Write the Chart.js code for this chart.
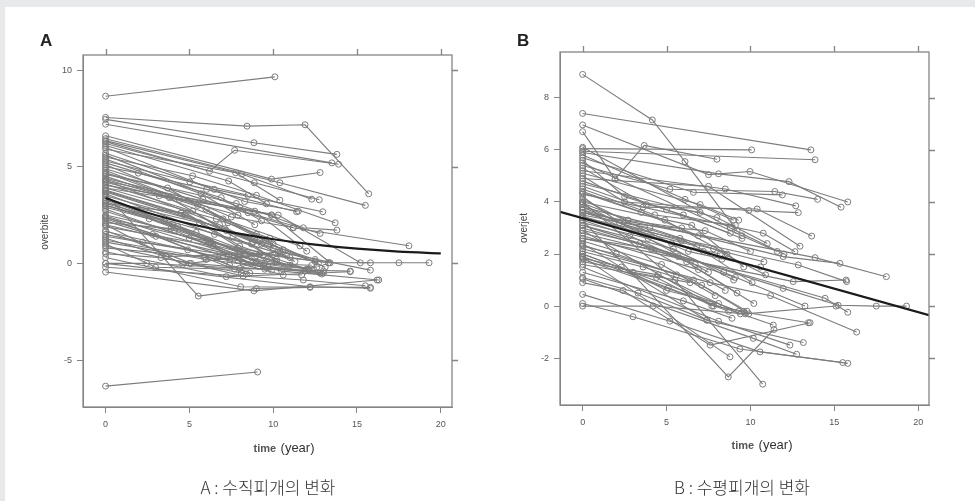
<!DOCTYPE html>
<html>
<head>
<meta charset="utf-8">
<script src="https://cdn.jsdelivr.net/npm/chart.js@4.4.1/dist/chart.umd.min.js"></script>
<style>
  body { margin: 0; background: #e8e9eb; }
  #page { position: relative; width: 975px; height: 501px; overflow: hidden; }
  #sheet { position: absolute; left: 5px; top: 7px; right: 0; bottom: 0; background: #fff; }
  canvas { position: absolute; left: 0; top: 0; }
  .txt { position: absolute; white-space: nowrap; color: #444; font-family: 'Liberation Sans', Arial, sans-serif; }
  .panel { font-size: 17px; font-weight: bold; color: #222; }
  .ytitle { font-size: 10px; transform: translate(-50%, -50%) rotate(-90deg); }
  .xtitle { transform: translate(-50%, -50%); }
  .xtitle b { font-size: 11px; color: #555; }
  .xtitle span { font-size: 13px; font-family: 'Liberation Sans Narrow', 'Liberation Sans', sans-serif; color: #333; }
  .caption { font-family: 'Noto Sans CJK KR', sans-serif; font-weight: 300; font-size: 17px; color: #333; transform: translate(-50%, -50%); }
</style>
</head>
<body>
<div id="page">
  <div id="sheet"></div>
  <canvas id="overbiteChart" width="975" height="501"></canvas>
  <canvas id="overjetChart" width="975" height="501"></canvas>

  <div class="txt panel" style="left:40px; top:31px;">A</div>
  <div class="txt ytitle" style="left:44px; top:232px;">overbite</div>
  <div class="txt xtitle" style="left:284px; top:447px;"><b>time</b> <span>(year)</span></div>
  <div class="txt caption" style="left:268px; top:486px;">A : 수직피개의 변화</div>

  <div class="txt panel" style="left:517px; top:31px;">B</div>
  <div class="txt ytitle" style="left:523px; top:228px;">overjet</div>
  <div class="txt xtitle" style="left:762px; top:444px;"><b>time</b> <span>(year)</span></div>
  <div class="txt caption" style="left:742px; top:486px;">B : 수평피개의 변화</div>
</div>

<script>
// tick labels
const timeTicks = [0, 5, 10, 15, 20];
const overbiteTicks = [-5, 0, 5, 10];
const overjetTicks = [-2, 0, 2, 4, 6, 8];

// A: overbite, one row per patient (time in years / value in mm)
const overbiteTimes = [
  [0, 10.1], [0, 8.44, 11.9, 15.7], [0, 8.85, 13.8], [0, 13.5], [0, 6.2, 7.7, 13.9],
  [0, 9.9, 12.8], [0, 10.4, 15.5], [0, 8.87, 12.75], [0, 8.12, 12.3], [0, 7.76, 10.4],
  [0, 7.34, 9.6], [0, 5.19, 9.0, 13.7], [0, 5.03, 8.5], [0, 1.95, 6.03, 11.4], [0, 6.48, 12.96],
  [0, 5.8, 11.2, 18.1], [0, 7.8, 11.8, 13.8], [0, 8.5, 12.8], [0, 8.9, 12.0], [0, 9.9, 13.4],
  [0, 10.3, 15.2, 15.8], [0, 8.0, 13.3, 17.5, 19.3], [0, 5.53, 9.0, 12.2], [0, 7.2, 14.6], [0, 8.06, 15.8],
  [0, 8.85, 16.2], [0, 11.8, 15.5], [0, 12.2, 15.8], [0, 9.07], [0, 2.45, 8.0, 13.0],
  [0, 2.98, 7.7, 12.6], [0, 3.6, 9.2, 13.3], [0, 5.1, 9.5, 14.6], [0, 4.6, 10.3, 15.8], [0, 7.0, 10.5, 16.3],
  [0, 4.0, 8.3], [0, 3.5, 7.9, 11.0], [0, 5.0, 9.5], [0, 6.5, 10.8], [0, 4.5, 8.8, 12.5],
  [0, 2.8, 7.4], [0, 6.0, 9.0, 13.1], [0, 3.2, 7.0, 11.6], [0, 5.5, 10.0], [0, 7.5, 11.2],
  [0, 6.9, 9.3], [0, 4.8, 8.0, 12.0], [0, 3.9, 9.6], [0, 6.2, 10.1, 12.8], [0, 2.2, 6.8, 9.9],
  [0, 5.9, 8.4], [0, 7.9, 10.9], [0, 4.3, 8.7, 12.3], [0, 6.6, 9.8], [0, 3.7, 7.3, 10.6],
  [0, 5.7, 8.9], [0, 8.3, 11.5], [0, 4.1, 9.1], [0, 6.4, 8.2, 11.9], [0, 7.1, 10.0],
  [0, 3.0, 8.6], [0, 5.2, 7.6, 10.2], [0, 9.2, 12.7], [0, 4.9, 10.6], [0, 6.8, 11.3],
  [0, 2.6, 6.1, 9.4], [0, 8.0, 9.9], [0, 5.4, 9.7, 13.0], [0, 7.7, 12.4], [0, 4.4, 7.9],
  [0, 3.3, 8.1, 11.7], [0, 6.0, 12.9], [0, 9.0, 12.1], [0, 5.6, 8.9], [0, 7.4, 10.4],
  [0, 4.7, 9.3], [0, 6.3, 11.0], [0, 3.8, 7.2, 12.5], [0, 8.7, 10.2], [0, 5.0, 8.2]
];
const overbiteValues = [
  [8.65, 9.65], [7.55, 7.1, 7.17, 3.6], [7.45, 6.24, 5.64], [7.2, 5.2], [6.3, 4.77, 5.85, 5.13],
  [6.6, 4.36, 4.7], [6.45, 4.17, 3.0], [6.2, 4.17, 3.29], [6.35, 4.62, 3.32], [5.9, 4.69, 3.27],
  [6.1, 4.26, 3.08], [5.5, 4.53, 3.52, 2.1], [5.3, 4.22, 3.52], [5.0, 4.67, 3.83, 2.67], [5.7, 3.83, 2.67],
  [4.9, 3.31, 1.84, 0.91], [4.65, 3.1, 1.84, 1.72], [4.4, 2.62, 1.55], [4.25, 2.7, 0.63], [4.05, 2.5, 0.03],
  [3.9, 2.5, 0.03, 0.03], [3.2, 0.6, 0.03, 0.03, 0.03], [3.6, -1.69, -1.3, -1.24], [0.6, -0.69, -0.43], [0.3, -1.21, -1.24],
  [-0.45, -1.42, -0.86], [-0.2, -0.86, -1.16], [0.0, -1.21, -1.29], [-6.35, -5.62], [0.0, 0.0, -0.25, -0.4],
  [1.0, -0.2, -0.3, -0.2], [1.3, 0.35, 0.52, 0.03], [1.7, 0.0, -0.3, -0.4], [2.0, -0.05, 0.6, -0.35], [2.3, 0.4, -0.4, -0.86],
  [3.4, 2.0, 0.5], [3.0, 2.2, 0.8, 0.3], [2.8, 1.3, 0.0], [3.6, 1.5, 0.4], [3.8, 2.6, 1.1, 0.1],
  [2.4, 1.5, -0.1], [4.5, 2.8, 1.5, -0.2], [4.2, 3.5, 2.3, 0.9], [4.8, 3.0, 1.0], [5.1, 2.4, 1.86],
  [5.2, 3.4, 2.2], [3.1, 2.6, 0.9, -0.3], [2.1, 1.8, 0.2], [2.7, 1.0, 0.1, -0.5], [1.5, 1.1, 0.5, -0.35],
  [1.2, 0.3, -0.55], [0.8, 0.15, -0.2], [3.3, 1.9, 0.0, -0.1], [3.9, 2.3, 1.3], [4.6, 3.9, 2.1, 0.7],
  [5.4, 3.6, 2.0], [6.0, 3.2, 2.7], [2.5, 1.7, -0.15], [1.9, 0.9, 0.0, -0.4], [3.5, 1.8, 0.8],
  [2.2, 1.4, -0.5], [4.1, 2.7, 1.4, 0.2], [3.7, 1.2, 0.0], [1.4, 0.7, -0.6], [4.3, 2.0, 0.1],
  [2.9, 2.3, 1.2, 0.4], [5.6, 2.9, 2.5], [3.0, 1.6, -0.2, -0.5], [2.0, 0.4, -0.3], [4.7, 3.3, 2.5],
  [0.5, 0.3, -0.5, -0.6], [1.1, 0.2, -0.55], [2.45, 0.1, -0.3], [3.25, 2.1, 0.3], [1.65, 0.2, 0.6],
  [3.75, 2.5, 1.0], [2.35, 1.1, -0.1], [4.35, 3.4, 1.7, 0.2], [3.1, 1.0, 0.1], [0.9, 0.0, -0.65]
];
// fitted mean curve
const overbiteMeanTimes = [0, 2.5, 5, 7.5, 10, 12.5, 15, 17.5, 20];
const overbiteMeanValues = [3.38, 2.62, 2.05, 1.6, 1.25, 0.97, 0.76, 0.61, 0.52];

// B: overjet
const overjetTimes = [
  [0, 4.15, 6.1, 9.2], [0, 13.6], [0, 1.93, 3.67, 8.0], [0, 10.07], [0, 13.85],
  [0, 7.5, 9.97, 15.8], [0, 8.1, 12.3, 15.4], [0, 5.2, 11.45, 14.0], [0, 6.6, 11.9], [0, 8.5, 12.7],
  [0, 2.5, 9.9, 12.85], [0, 3.6, 10.4, 13.65], [0, 7.5, 12.95], [0, 10.76, 12.65], [0, 11.95, 15.33],
  [0, 13.85, 18.1], [0, 12.85, 15.73], [0, 11.95, 15.23, 17.5, 19.3], [0, 12.55, 15.7], [0, 14.45, 15.8],
  [0, 8.4, 13.25], [0, 7.6, 11.2, 16.33], [0, 9.3, 13.45], [0, 11.36], [0, 7.4, 13.15],
  [0, 8.1, 12.35], [0, 10.17, 12.75], [0, 5.2, 10.57, 15.5], [0, 3.0, 9.37, 15.8], [0, 8.78],
  [0, 8.68, 11.4], [0, 5.5, 10.73], [0, 4.2, 9.7, 15.1], [0, 2.4, 7.6, 13.55], [0, 2.5, 6.0, 9.5],
  [0, 3.8, 7.0], [0, 5.0, 8.8], [0, 4.3, 9.1], [0, 2.2, 7.3, 10.0], [0, 6.5, 9.6],
  [0, 3.1, 6.8], [0, 5.8, 8.3], [0, 4.0, 7.8, 10.9], [0, 2.8, 6.2], [0, 5.4, 9.0],
  [0, 3.4, 8.5], [0, 6.9, 10.2], [0, 4.7, 7.9], [0, 2.0, 5.6], [0, 3.6, 7.1, 9.8],
  [0, 5.1, 8.7], [0, 4.5, 9.4], [0, 6.0, 8.9], [0, 3.3, 7.4], [0, 2.7, 5.9],
  [0, 7.0, 9.3], [0, 4.9, 8.6], [0, 6.3, 10.6], [0, 3.9, 7.5], [0, 5.7, 9.2],
  [0, 8.0, 11.0], [0, 4.1, 6.7, 9.1], [0, 3.0, 6.4], [0, 7.2, 10.1], [0, 5.3, 8.2],
  [0, 9.5, 11.6], [0, 6.6, 9.9], [0, 4.4, 7.7], [0, 8.8, 12.0], [0, 5.9, 10.8],
  [0, 3.5, 6.9], [0, 7.8, 9.6], [0, 2.3, 5.0, 8.1], [0, 6.1, 9.0]
];
const overjetValues = [
  [8.9, 7.15, 5.55, 2.9], [7.4, 6.0], [6.7, 4.88, 6.17, 5.64], [6.05, 6.0], [5.95, 5.62],
  [6.96, 5.05, 5.17, 4.0], [5.9, 5.08, 4.78, 3.8], [5.4, 4.49, 4.4, 4.1], [5.7, 4.37, 4.27], [5.2, 4.5, 3.85],
  [5.0, 4.0, 3.67, 3.59], [4.6, 3.8, 3.73, 2.69], [4.9, 4.6, 2.3], [4.3, 2.8, 2.09], [3.8, 1.9, 1.64],
  [3.6, 1.86, 1.13], [3.4, 1.58, 0.94], [3.1, 0.68, 0.03, 0.0, 0.0], [2.6, 0.94, 1.0], [3.0, 0.3, -0.24],
  [3.7, 1.3, 0.0], [2.2, 0.9, 0.4, -1.0], [2.0, -0.2, -0.64], [1.8, -0.73], [2.4, -0.54, -1.4],
  [1.5, -0.58, -1.5], [1.05, -1.24, -1.85], [0.45, -0.58, -1.76, -2.17], [0.1, -0.41, -1.65, -2.2], [1.9, -1.95],
  [3.3, -2.72, -0.9], [4.0, 1.0, -3.0], [0.0, 0.0, -0.3, 0.0], [0.9, 0.6, -1.5, -0.64], [5.6, 4.2, 3.5, 2.6],
  [5.3, 3.9, 3.6], [4.8, 3.7, 2.8], [4.5, 3.5, 3.1], [4.2, 3.2, 2.9, 2.1], [4.0, 3.1, 1.5],
  [3.9, 2.9, 2.3], [3.7, 2.6, 1.8], [3.5, 3.0, 2.2, 1.2], [3.3, 2.7, 1.7], [3.1, 2.2, 1.0],
  [2.9, 2.4, 0.6], [2.7, 1.4, 0.1], [2.5, 1.6, 0.4], [2.3, 2.0, 1.2], [2.1, 1.5, 0.8, -0.2],
  [1.9, 0.7, -0.2], [1.7, 1.2, -0.3], [1.3, 0.2, -0.47], [1.1, 0.5, -0.54], [3.95, 3.3, 3.0],
  [5.1, 3.9, 3.3], [4.4, 3.3, 2.0], [3.8, 2.1, 1.5], [3.2, 2.6, 1.3], [2.8, 1.9, 0.5],
  [4.7, 3.4, 2.4], [2.6, 2.2, 1.6, 1.1], [2.0, 1.3, 0.9], [3.45, 2.1, 0.9], [4.1, 2.4, 2.0],
  [5.5, 2.7, 2.1], [2.35, 1.0, -0.3], [1.6, 1.1, 0.0], [6.1, 3.0, 2.0], [3.6, 2.5, 1.7],
  [4.35, 3.6, 2.7], [2.9, 0.0, -0.2], [1.85, 1.5, 0.6, 0.1], [5.8, 4.1, 3.3]
];
// fitted straight line, read where it meets the frame
const overjetMeanTimes = [-1.35, 20.64];
const overjetMeanValues = [3.62, -0.35];

document.addEventListener('DOMContentLoaded', () => {
  const lineGrey = '#7c7c7c';
  const frameGrey = '#858585';
  const tickFont = { family: "'Liberation Sans', Arial, sans-serif", size: 9 };

  // frame round the plot plus the unlabelled ticks on top and right
  const frameBox = {
    id: 'frameBox',
    afterDraw(chart) {
      const { ctx, chartArea: a, scales } = chart;
      ctx.save();
      ctx.strokeStyle = frameGrey;
      ctx.lineWidth = 1.3;
      ctx.strokeRect(a.left, a.top, a.right - a.left, a.bottom - a.top);
      ctx.beginPath();
      scales.x.ticks.forEach(t => {
        const px = Math.round(scales.x.getPixelForValue(t.value)) + 0.5;
        ctx.moveTo(px, a.top - 6);
        ctx.lineTo(px, a.top);
      });
      scales.y.ticks.forEach(t => {
        const py = Math.round(scales.y.getPixelForValue(t.value)) + 0.5;
        ctx.moveTo(a.right, py);
        ctx.lineTo(a.right + 6, py);
      });
      ctx.stroke();
      ctx.restore();
    }
  };

  function buildDatasets(times, values, meanTimes, meanValues, curved) {
    const sets = [{
      data: meanTimes.map((t, i) => ({ x: t, y: meanValues[i] })),
      showLine: true,
      borderColor: '#1b1b1b',
      borderWidth: 2.2,
      pointRadius: 0,
      cubicInterpolationMode: curved ? 'monotone' : 'default'
    }];
    times.forEach((row, k) => {
      sets.push({
        data: row.map((t, i) => ({ x: t, y: values[k][i] })),
        showLine: true,
        borderColor: lineGrey,
        borderWidth: 1.1,
        pointRadius: 3,
        pointBorderWidth: 1,
        pointBorderColor: lineGrey,
        pointBackgroundColor: 'rgba(0,0,0,0)'
      });
    });
    return sets;
  }

  function makeChart(id, datasets, xRange, yRange, yTicks, padding) {
    const fixTicks = list => scale => { scale.ticks = list.map(v => ({ value: v })); };
    return new Chart(document.getElementById(id).getContext('2d'), {
      type: 'scatter',
      data: { datasets: datasets },
      options: {
        responsive: false,
        animation: false,
        devicePixelRatio: 1,
        layout: { padding: padding },
        plugins: { legend: { display: false }, tooltip: { enabled: false } },
        scales: {
          x: {
            min: xRange[0], max: xRange[1],
            afterBuildTicks: fixTicks(timeTicks),
            afterFit: s => { s.height = 30; },
            grid: { drawOnChartArea: false, tickLength: 6, color: frameGrey },
            border: { color: frameGrey },
            ticks: { font: tickFont, color: '#555', padding: 6, maxRotation: 0 }
          },
          y: {
            min: yRange[0], max: yRange[1],
            afterBuildTicks: fixTicks(yTicks),
            afterFit: s => { s.width = 40; },
            grid: { drawOnChartArea: false, tickLength: 6, color: frameGrey },
            border: { color: frameGrey },
            ticks: { font: tickFont, color: '#555', padding: 5 }
          }
        }
      },
      plugins: [frameBox]
    });
  }

  makeChart('overbiteChart',
    buildDatasets(overbiteTimes, overbiteValues, overbiteMeanTimes, overbiteMeanValues, true),
    [-1.35, 20.67], [-7.43, 10.78], overbiteTicks,
    { left: 43, top: 55, right: 523, bottom: 64 });

  makeChart('overjetChart',
    buildDatasets(overjetTimes, overjetValues, overjetMeanTimes, overjetMeanValues, false),
    [-1.35, 20.64], [-3.80, 9.76], overjetTicks,
    { left: 520, top: 52, right: 46, bottom: 66 });
});
</script>
</body>
</html>
